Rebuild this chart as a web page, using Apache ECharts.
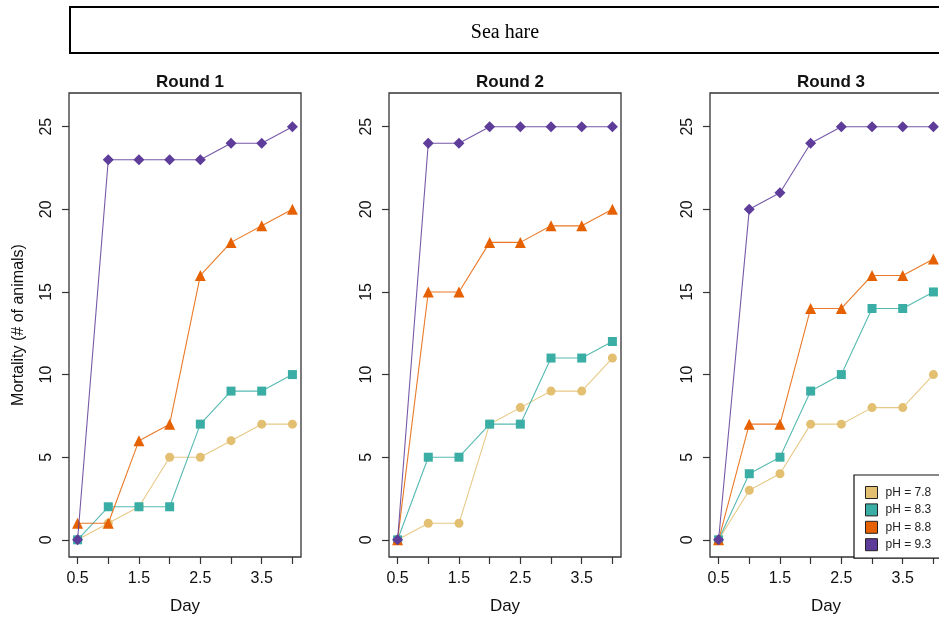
<!DOCTYPE html>
<html>
<head>
<meta charset="utf-8">
<script src="https://cdn.jsdelivr.net/npm/echarts@6/dist/echarts.min.js"></script>
<style>html,body{margin:0;padding:0;background:#fff}#c{width:939px;height:621px}</style>
</head>
<body>
<div id="c"></div>
<script>
const days = [0.5, 1, 1.5, 2, 2.5, 3, 3.5, 4];
const xTicks = [0.5, 1, 1.5, 2, 2.5, 3, 3.5, 4];
const xLabels = [0.5, 1.5, 2.5, 3.5];
const yTicks = [0, 5, 10, 15, 20, 25];
const roundNames = ['Round 1', 'Round 2', 'Round 3'];
const groupNames = ['pH = 7.8', 'pH = 8.3', 'pH = 8.8', 'pH = 9.3'];

const round1_ph78 = [0, 1, 2, 5, 5, 6, 7, 7];
const round1_ph83 = [0, 2, 2, 2, 7, 9, 9, 10];
const round1_ph88 = [1, 1, 6, 7, 16, 18, 19, 20];
const round1_ph93 = [0, 23, 23, 23, 23, 24, 24, 25];

const round2_ph78 = [0, 1, 1, 7, 8, 9, 9, 11];
const round2_ph83 = [0, 5, 5, 7, 7, 11, 11, 12];
const round2_ph88 = [0, 15, 15, 18, 18, 19, 19, 20];
const round2_ph93 = [0, 24, 24, 25, 25, 25, 25, 25];

const round3_ph78 = [0, 3, 4, 7, 7, 8, 8, 10];
const round3_ph83 = [0, 4, 5, 9, 10, 14, 14, 15];
const round3_ph88 = [0, 7, 7, 14, 14, 16, 16, 17];
const round3_ph93 = [0, 20, 21, 24, 25, 25, 25, 25];

const rounds = [
  [round1_ph78, round1_ph83, round1_ph88, round1_ph93],
  [round2_ph78, round2_ph83, round2_ph88, round2_ph93],
  [round3_ph78, round3_ph83, round3_ph88, round3_ph93]
];

const colors = ['#E3BF72', '#3AAEA4', '#E66101', '#5E3C99'];
const symbols = ['circle', 'rect', 'triangle', 'diamond'];
const symbolSizes = [9, 9, 11, 11];
const FONT = 'Liberation Sans, Arial, sans-serif';

const gridLefts = [69, 389, 710];
const grids = [], xAxes = [], yAxes = [], series = [], titles = [];
gridLefts.forEach((left, i) => {
  grids.push({left: left, top: 93, width: 232, height: 464, show: true,
    outerBoundsMode: 'none', containLabel: false,
    borderColor: '#333', borderWidth: 1.3, backgroundColor: 'transparent'});
  xAxes.push({type: 'value', gridIndex: i, min: 0.36, max: 4.14,
    name: 'Day', nameLocation: 'middle', nameGap: 41,
    nameTextStyle: {fontFamily: FONT, fontSize: 17, color: '#111'},
    axisLine: {show: false, onZero: false}, splitLine: {show: false},
    axisTick: {show: true, inside: false, length: 7, customValues: xTicks, lineStyle: {color: '#333', width: 1.2}},
    axisLabel: {customValues: xLabels, margin: 14, fontFamily: FONT, fontSize: 16, color: '#111'}});
  yAxes.push({type: 'value', gridIndex: i, min: -1.04, max: 27.04,
    name: i === 0 ? 'Mortality (# of animals)' : '', nameLocation: 'middle', nameGap: 42, nameRotate: 90,
    nameTextStyle: {fontFamily: FONT, fontSize: 16, color: '#111'},
    axisLine: {show: false, onZero: false}, splitLine: {show: false},
    axisTick: {show: true, inside: false, length: 7, customValues: yTicks, lineStyle: {color: '#333', width: 1.2}},
    axisLabel: {customValues: yTicks, rotate: 90, margin: 14, fontFamily: FONT, fontSize: 16, color: '#111'}});
  titles.push({text: roundNames[i], left: left + 116, top: 69, textAlign: 'center',
    textStyle: {fontFamily: FONT, fontSize: 17, fontWeight: 'bold', color: '#111'}});
  rounds[i].forEach((vals, k) => {
    series.push({type: 'line', name: groupNames[k], xAxisIndex: i, yAxisIndex: i,
      data: days.map((d, j) => [d, vals[j]]),
      symbol: symbols[k], symbolSize: symbolSizes[k], showSymbol: true,
      itemStyle: {color: colors[k]},
      lineStyle: {color: colors[k], width: 1.1, opacity: 0.85},
      emphasis: {disabled: true}, animation: false, z: 2 + k});
  });
});

const chart = echarts.init(document.getElementById('c'), null, {renderer: 'canvas'});
chart.setOption({
  animation: false,
  backgroundColor: '#fff',
  title: titles,
  grid: grids, xAxis: xAxes, yAxis: yAxes, series: series,
  legend: {orient: 'vertical', left: 854, top: 475, data: groupNames.map((n, k) => ({name: n, icon: 'rect', itemStyle: {color: colors[k], borderColor: '#222', borderWidth: 1}})),
    itemWidth: 12, itemHeight: 12, itemGap: 4.4, padding: [11, 40, 7, 11],
    borderColor: '#111', borderWidth: 1.2, backgroundColor: '#fff',
    textStyle: {fontFamily: FONT, fontSize: 12, color: '#222', padding: [0, 0, 0, 3]},
    selectedMode: false, z: 10},
  graphic: [
    {type: 'rect', left: 69, top: 6, shape: {width: 875, height: 46},
      style: {fill: '#fff', stroke: '#000', lineWidth: 2}},
    {type: 'text', x: 505, y: 33, style: {text: 'Sea hare', fontFamily: 'Liberation Serif, Times New Roman, serif', fontSize: 20, fill: '#000', align: 'center', verticalAlign: 'middle'}}
  ]
});
</script>
</body>
</html>
